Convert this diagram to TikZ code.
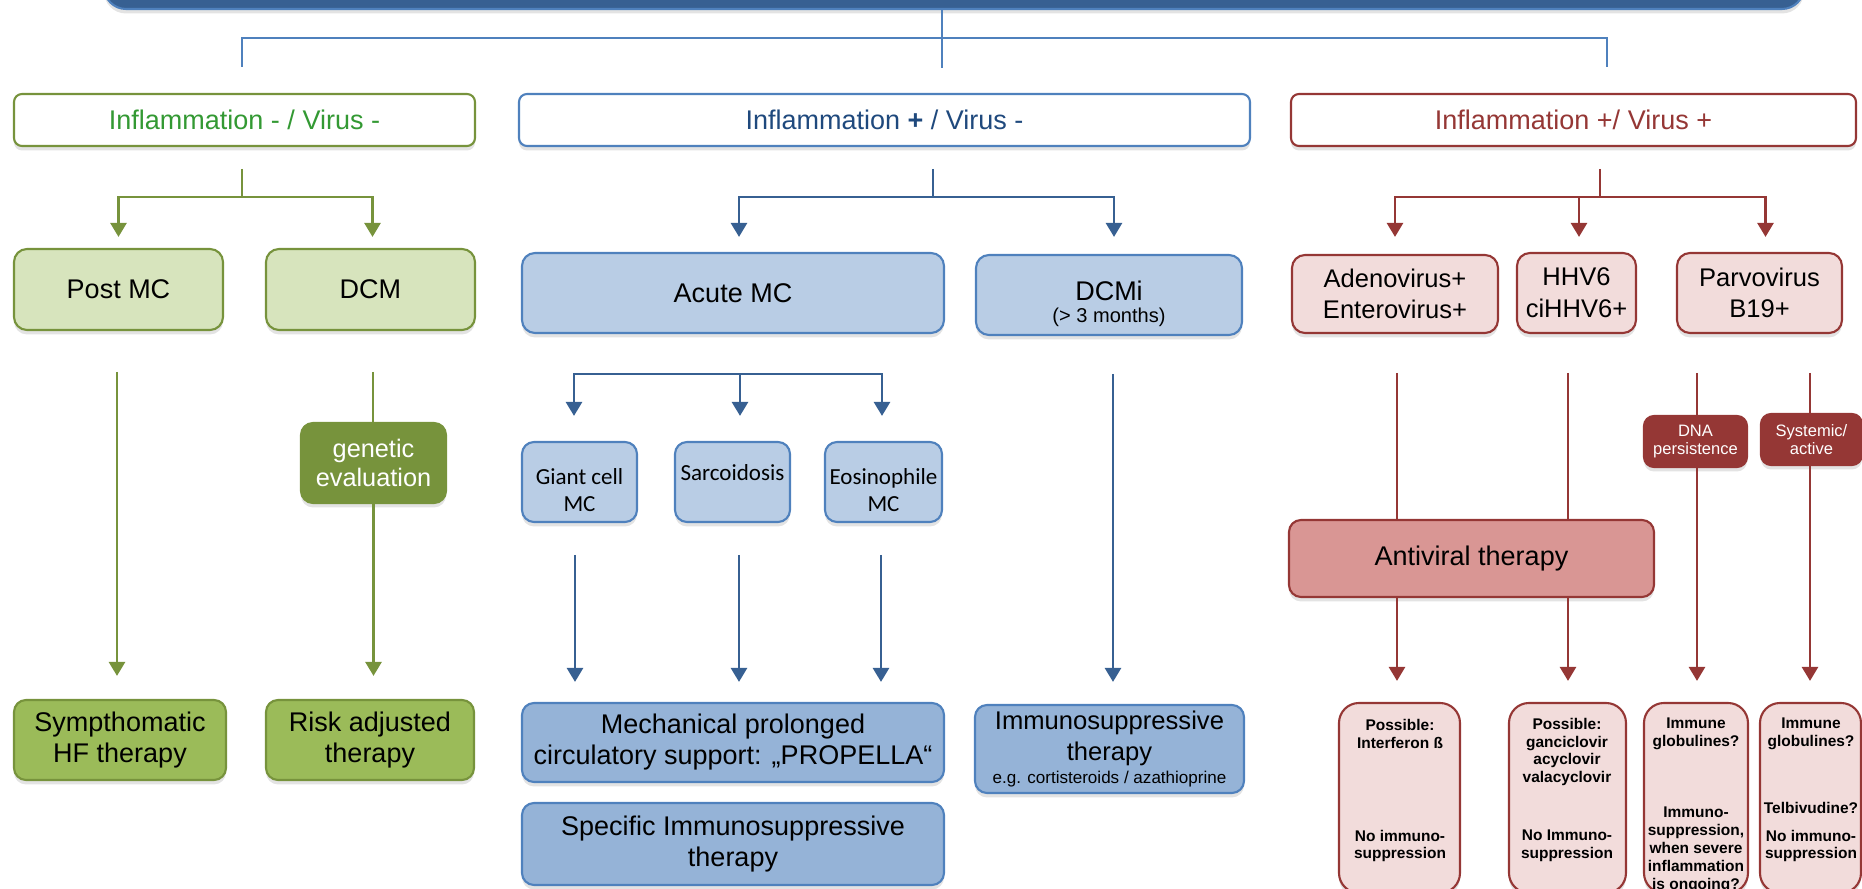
\documentclass[tikz,border=0pt]{standalone}
\usepackage{fontspec}
\setmainfont{Liberation Sans}
\newfontfamily\carl{Carlito}
\usetikzlibrary{arrows.meta,shadows}
\definecolor{gB}{HTML}{77933C}
\definecolor{gT}{HTML}{339933}
\definecolor{gL}{HTML}{D7E4BD}
\definecolor{gM}{HTML}{9BBB59}
\definecolor{bB}{HTML}{4F81BD}
\definecolor{bD}{HTML}{376092}
\definecolor{bT}{HTML}{1F497D}
\definecolor{bL}{HTML}{B9CDE5}
\definecolor{bM}{HTML}{95B3D7}
\definecolor{rB}{HTML}{953735}
\definecolor{rL}{HTML}{F2DCDB}
\definecolor{rM}{HTML}{D99694}
\newcommand\fsz[2]{\fontsize{#1}{#2}\selectfont}
\newcommand\mkbox[7]{%
  \pgfmathsetmacro\bxw{(#5-#3)*0.01}%
  \pgfmathsetmacro\bxh{(#6-#4)*0.01}%
  \node[#2, minimum width=\bxw cm, minimum height=\bxh cm] (#1) at ({(#3+#5)/2},{(#4+#6)/2}) {#7};}
\begin{document}
\begin{tikzpicture}[x=0.01cm,y=-0.01cm,
  bx/.style={rounded corners=0.1cm, line width=0.6pt, inner sep=0pt, align=center,
    drop shadow={opacity=0.22,shadow xshift=0pt,shadow yshift=-0.045cm}},
  big/.style={font=\fsz{7.68pt}{8.8pt}},
  catg/.style={bx, big, draw=gB, fill=white, text=gT, rounded corners=0.08cm},
  catb/.style={bx, big, draw=bB, fill=white, text=bT, rounded corners=0.08cm},
  catr/.style={bx, big, draw=rB, fill=white, text=rB, rounded corners=0.08cm},
  lvg/.style={bx, big, draw=gB, fill=gL, rounded corners=0.13cm},
  lvb/.style={bx, big, draw=bB, fill=bL, rounded corners=0.13cm},
  lvr/.style={bx, font=\fsz{7.26pt}{9pt}, draw=rB, fill=rL, rounded corners=0.13cm},
  smb/.style={bx, font=\carl\fsz{6.55pt}{7.6pt}, draw=bB, fill=bL, rounded corners=0.12cm},
  btg/.style={bx, big, draw=gB, fill=gM, rounded corners=0.12cm},
  btb/.style={bx, big, draw=bB, fill=bM, rounded corners=0.12cm},
  btr/.style={bx, draw=rB, fill=rL, rounded corners=0.2cm},
  gen/.style={bx, font=\fsz{7.2pt}{8.5pt}, draw=gB, fill=gB, text=white, rounded corners=0.12cm},
  dark/.style={bx, font=\fsz{4.7pt}{5.1pt}, draw=rB, fill=rB, text=white, rounded corners=0.1cm},
  rtxt/.style={align=center, inner sep=0pt, font=\bfseries\fsz{4.4pt}{5.1pt}},
  ln/.style={line width=0.75pt},
  tip/.style={-{Triangle[width=0.16cm,length=0.14cm]}},
]
\clip (0,0) rectangle (1862,889);

% ---- boxes ----
\mkbox{banner}{bx, draw=bB, fill=bD, rounded corners=0.22cm}{104}{-40}{1804}{9}{}
\mkbox{catG}{catg}{14}{94}{475}{146}{Inflammation - / Virus -}
\mkbox{catB}{catb}{519}{94}{1250}{146}{Inflammation \textbf{+} / Virus -}
\mkbox{catR}{catr}{1291}{94}{1856}{146}{Inflammation +/ Virus +}

\mkbox{postmc}{lvg}{14}{249}{223}{330}{Post MC}
\mkbox{dcm}{lvg}{266}{249}{475}{330}{DCM}
\mkbox{acute}{lvb}{522}{253}{944}{333}{Acute MC}
\mkbox{dcmi}{lvb}{976}{255}{1242}{335}{\rule{0pt}{10.6pt}DCMi\\[-2.3pt]{\fsz{5.7pt}{8.8pt}(> 3 months)}}
\mkbox{adeno}{lvr}{1292}{255}{1498}{333}{Adenovirus+\\Enterovirus+}
\mkbox{hhv}{lvr}{1517}{253}{1636}{333}{HHV6\\ciHHV6+}
\mkbox{parvo}{lvr}{1677}{253}{1842}{333}{Parvovirus\\B19+}

\mkbox{genetic}{gen}{301}{423}{446}{503}{genetic\\evaluation}
\mkbox{giant}{smb}{522}{442}{637}{522}{\rule{0pt}{9.3pt}Giant cell\\MC}
\mkbox{sarc}{smb}{675}{442}{790}{522}{\rule{0pt}{9.3pt}Sarcoidosis\\\strut}
\mkbox{eos}{smb}{825}{442}{942}{522}{\rule{0pt}{9.3pt}Eosinophile\\MC}
\mkbox{dna}{dark}{1644}{416}{1747}{467}{DNA\\persistence}
\mkbox{syst}{dark}{1761}{414}{1862}{465}{Systemic/\\active}
\mkbox{antiviral}{lvr, font=\fsz{7.68pt}{8.8pt}, fill=rM, rounded corners=0.12cm}{1289}{520}{1654}{597}{Antiviral therapy}

\mkbox{symp}{btg}{14}{700}{226}{780}{Sympthomatic\\HF therapy}
\mkbox{risk}{btg}{266}{700}{474}{780}{Risk adjusted\\therapy}
\mkbox{mech}{btb}{522}{703}{944}{782}{Mechanical prolonged\\circulatory support: „PROPELLA“}
\mkbox{spec}{btb}{522}{803}{944}{885}{Specific Immunosuppressive\\therapy}
\mkbox{immun}{btb, font=\fsz{7.28pt}{8.8pt}}{975}{705}{1244}{793}{Immunosuppressive\\therapy\\[-2pt]{\fsz{4.85pt}{8.8pt}e.g. cortisteroids / azathioprine}}

\mkbox{r1}{btr}{1339}{703}{1460}{893}{}
\mkbox{r2}{btr}{1509}{703}{1626}{893}{}
\mkbox{r3}{btr}{1644}{703}{1748}{893}{}
\mkbox{r4}{btr}{1760}{703}{1861}{893}{}

\node[rtxt] (r1a) at (1400,734) {Possible:\\Interferon ß};
\node[rtxt] (r1b) at (1400,846) {No immuno-\\suppression};
\node[rtxt] (r2a) at (1567,752) {Possible:\\ganciclovir\\acyclovir\\valacyclovir};
\node[rtxt] (r2b) at (1567,846) {No Immuno-\\suppression};
\node[rtxt] (r3a) at (1696,734) {Immune\\globulines?};
\node[rtxt] (r3b) at (1696,850) {Immuno-\\suppression,\\when severe\\inflammation\\is ongoing?};
\node[rtxt] (r4a) at (1811,734) {Immune\\globulines?};
\node[rtxt] (r4b) at (1811,808) {Telbivudine?};
\node[rtxt] (r4c) at (1811,846) {No immuno-\\suppression};

% ---- top connector ----
\coordinate (tL) at (242,67);
\coordinate (tR) at (1607,67);
\coordinate (tH) at (942,38);
\coordinate (tC) at (942,68);
\draw[ln, bB] (tL) |- (tH) -| (tR);
\draw[ln, bB] (banner.south -| tH) -- (tC);

% ---- green ----
\coordinate (gS) at (242,169);
\coordinate (gJ) at (242,197);
\draw[ln, gB] (gS) -- (gJ);
\draw[ln, gB, tip, shorten >=0.11cm] (gJ) -| (postmc.north);
\draw[ln, gB, tip, shorten >=0.11cm] (gJ) -| ([xshift=0.02cm]dcm.north);
\coordinate (p1) at (117,372);
\draw[ln, gB, tip, shorten >=0.23cm] (p1) -- (p1 |- symp.north);
\coordinate (d1) at (373,372);
\draw[ln, gB] (d1) -- (d1 |- genetic.north);
\draw[ln, gB, tip, shorten >=0.23cm] (genetic.south) -- (genetic.south |- risk.north);

% ---- blue ----
\coordinate (bS) at (933,169);
\coordinate (bJ) at (933,197);
\draw[ln, bD] (bS) -- (bJ);
\draw[ln, bD, tip, shorten >=0.15cm] (bJ) -| ([xshift=0.06cm]acute.north);
\draw[ln, bD, tip, shorten >=0.17cm] (bJ) -| ([xshift=0.05cm]dcmi.north);
\coordinate (aJ) at (740,374);
\draw[ln, bD, tip, shorten >=0.25cm] (aJ) -| ([xshift=-0.055cm]giant.north);
\draw[ln, bD, tip, shorten >=0.25cm] (aJ) -- (aJ |- sarc.north);
\draw[ln, bD, tip, shorten >=0.25cm] (aJ) -| ([xshift=-0.015cm]eos.north);
\coordinate (g1) at (575,555);
\coordinate (g2) at (739,555);
\coordinate (g3) at (881,555);
\draw[ln, bD, tip, shorten >=0.2cm] (g1) -- (g1 |- mech.north);
\draw[ln, bD, tip, shorten >=0.2cm] (g2) -- (g2 |- mech.north);
\draw[ln, bD, tip, shorten >=0.2cm] (g3) -- (g3 |- mech.north);
\coordinate (i1) at (1113,374);
\draw[ln, bD, tip, shorten >=0.22cm] (i1) -- (i1 |- immun.north);

% ---- red ----
\coordinate (rS) at (1600,169);
\coordinate (rJ) at (1600,197);
\draw[ln, rB] (rS) -- (rJ);
\draw[ln, rB, tip, shorten >=0.17cm] (rJ) -| (adeno.north);
\draw[ln, rB, tip, shorten >=0.15cm] (rJ) -| ([xshift=0.025cm]hhv.north);
\draw[ln, rB, tip, shorten >=0.15cm] (rJ) -| ([xshift=0.06cm]parvo.north);
\coordinate (ad1) at (1397,373);
\coordinate (hh1) at (1568,373);
\coordinate (dn1) at (1697,373);
\coordinate (sy1) at (1810,373);
\draw[ln, rB] (ad1) -- (ad1 |- antiviral.north);
\draw[ln, rB] (hh1) -- (hh1 |- antiviral.north);
\draw[ln, rB] (dn1) -- (dn1 |- dna.north);
\draw[ln, rB] (sy1) -- (sy1 |- syst.north);
\draw[ln, rB, tip, shorten >=0.21cm] (ad1 |- antiviral.south) -- (ad1 |- r1.north);
\draw[ln, rB, tip, shorten >=0.21cm] (hh1 |- antiviral.south) -- (hh1 |- r2.north);
\draw[ln, rB, tip, shorten >=0.21cm] (dn1 |- dna.south) -- (dn1 |- r3.north);
\draw[ln, rB, tip, shorten >=0.21cm] (sy1 |- syst.south) -- (sy1 |- r4.north);
\end{tikzpicture}
\end{document}
